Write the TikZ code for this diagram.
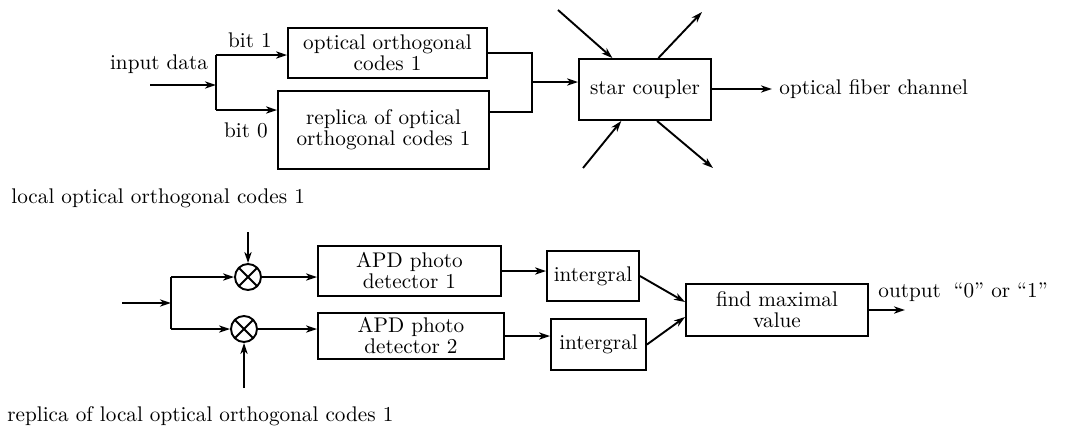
\documentclass[tikz,border=0pt]{standalone}
\usetikzlibrary{arrows.meta}
\begin{document}
\begin{tikzpicture}[>={Stealth[length=5.5pt, width=3.6pt, inset=1.6pt]}, x=0.5pt, y=-0.5pt]
        \tikzset{
            every node/.style={font=\fontsize{10.6}{10.5}\selectfont},
            block/.style={draw, line width=0.95pt, align=center, inner sep=1pt},
            arrow/.style={->, line width=0.95pt},
            wire/.style={line width=0.95pt},
            mult/.style={draw, circle, line width=0.95pt, minimum size=13pt, inner sep=0pt,
                path picture={\draw[line width=0.95pt] (path picture bounding box.north west) -- (path picture bounding box.south east)
                    (path picture bounding box.north east) -- (path picture bounding box.south west);}},
            txt/.style={inner sep=0pt}
        }
        \useasboundingbox (0,0) rectangle (1069,429);

        % transmitter
        \node[txt] (input) at (159, 64) {input data};
        \node[txt] (bit1) at (250, 40) {bit 1};
        \node[txt] (bit0) at (246, 130) {bit 0};
        \node[block, minimum width=99.5pt, minimum height=25pt] (occ) at (387.5, 53) {optical orthogonal\\codes 1};
        \node[block, minimum width=105.5pt, minimum height=39pt] (rocc) at (383.5, 130) {replica of optical\\orthogonal codes 1};
        \node[block, minimum width=66pt, minimum height=30.5pt] (star) at (645, 89.5) {star coupler};
        \node[txt, anchor=west] (fiber) at (779, 89) {optical fiber channel};

        \coordinate (in) at (150, 85);
        \coordinate (split) at (216, 85);
        \coordinate (s1) at (216, 55);
        \coordinate (s2) at (216, 110);
        \coordinate (m1) at (532, 53);
        \coordinate (m2) at (532, 112);
        \coordinate (mid) at (532, 82);
        \coordinate (tl) at (558, 10);
        \coordinate (tr) at (702, 12);
        \coordinate (bl) at (583, 168);
        \coordinate (br) at (713, 168);

        \draw[arrow] (in) -- (split);
        \draw[wire] (s1) -- (s2);
        \draw[arrow] (s1) -- (occ.west |- s1);
        \draw[arrow] (s2) -- (rocc.west |- s2);
        \draw[wire] (occ.east |- m1) -- (m1) -- (m2) -- (rocc.east |- m2);
        \draw[arrow] (mid) -- (star.west |- mid);
        \draw[arrow, shorten >=3.5pt] (star.east |- fiber) -- (fiber.west);
        \draw[arrow] (tl) -- (star.136);
        \draw[arrow] (star.67) -- (tr);
        \draw[arrow] (bl) -- (star.233);
        \draw[arrow] (star.291) -- (br);

        % receiver
        \node[txt, anchor=west] (local) at (11, 198) {local optical orthogonal codes 1};
        \node[txt, anchor=west] (rlocal) at (7, 416) {replica of local optical orthogonal codes 1};
        \node[mult] (mul1) at (248, 277) {};
        \node[mult] (mul2) at (244, 329) {};
        \node[block, minimum width=91.5pt, minimum height=25pt] (apd1) at (409.5, 271) {APD photo\\detector 1};
        \node[block, minimum width=93pt, minimum height=23pt] (apd2) at (411, 336) {APD photo\\detector 2};
        \node[block, minimum width=46pt, minimum height=25pt] (int1) at (593, 276) {intergral};
        \node[block, minimum width=47.5pt, minimum height=25.5pt] (int2) at (598.5, 344.5) {intergral};
        \node[block, minimum width=91pt, minimum height=26pt] (fmv) at (777, 310) {find maximal\\value};
        \node[txt, anchor=west] (outtxt) at (878, 292) {output\hspace{0.6em}“0” or “1”};

        \coordinate (rin) at (122, 303);
        \coordinate (rsplit) at (171, 303);
        \coordinate (r1) at (171, 277);
        \coordinate (r2) at (171, 329);
        \coordinate (lc) at (248, 232);
        \coordinate (rlc) at (244, 388);
        \coordinate (out) at (905, 310);

        \draw[arrow] (rin) -- (rsplit);
        \draw[wire] (r1) -- (r2);
        \draw[arrow] (r1) -- (mul1);
        \draw[arrow] (r2) -- (mul2);
        \draw[arrow] (lc) -- (mul1);
        \draw[arrow] (rlc) -- (mul2);
        \draw[arrow] (mul1) -- (apd1.west |- mul1);
        \draw[arrow] (mul2) -- (apd2.west |- mul2);
        \draw[arrow] (apd1.east) -- (int1.west |- apd1.east);
        \draw[arrow] (apd2.east) -- (int2.west |- apd2.east);
        \draw[arrow] (int1.east) -- ([yshift=4pt]fmv.west);
        \draw[arrow] (int2.east) -- ([yshift=-3.5pt]fmv.west);
        \draw[arrow] (fmv.east) -- (out);
    \end{tikzpicture}
\end{document}
